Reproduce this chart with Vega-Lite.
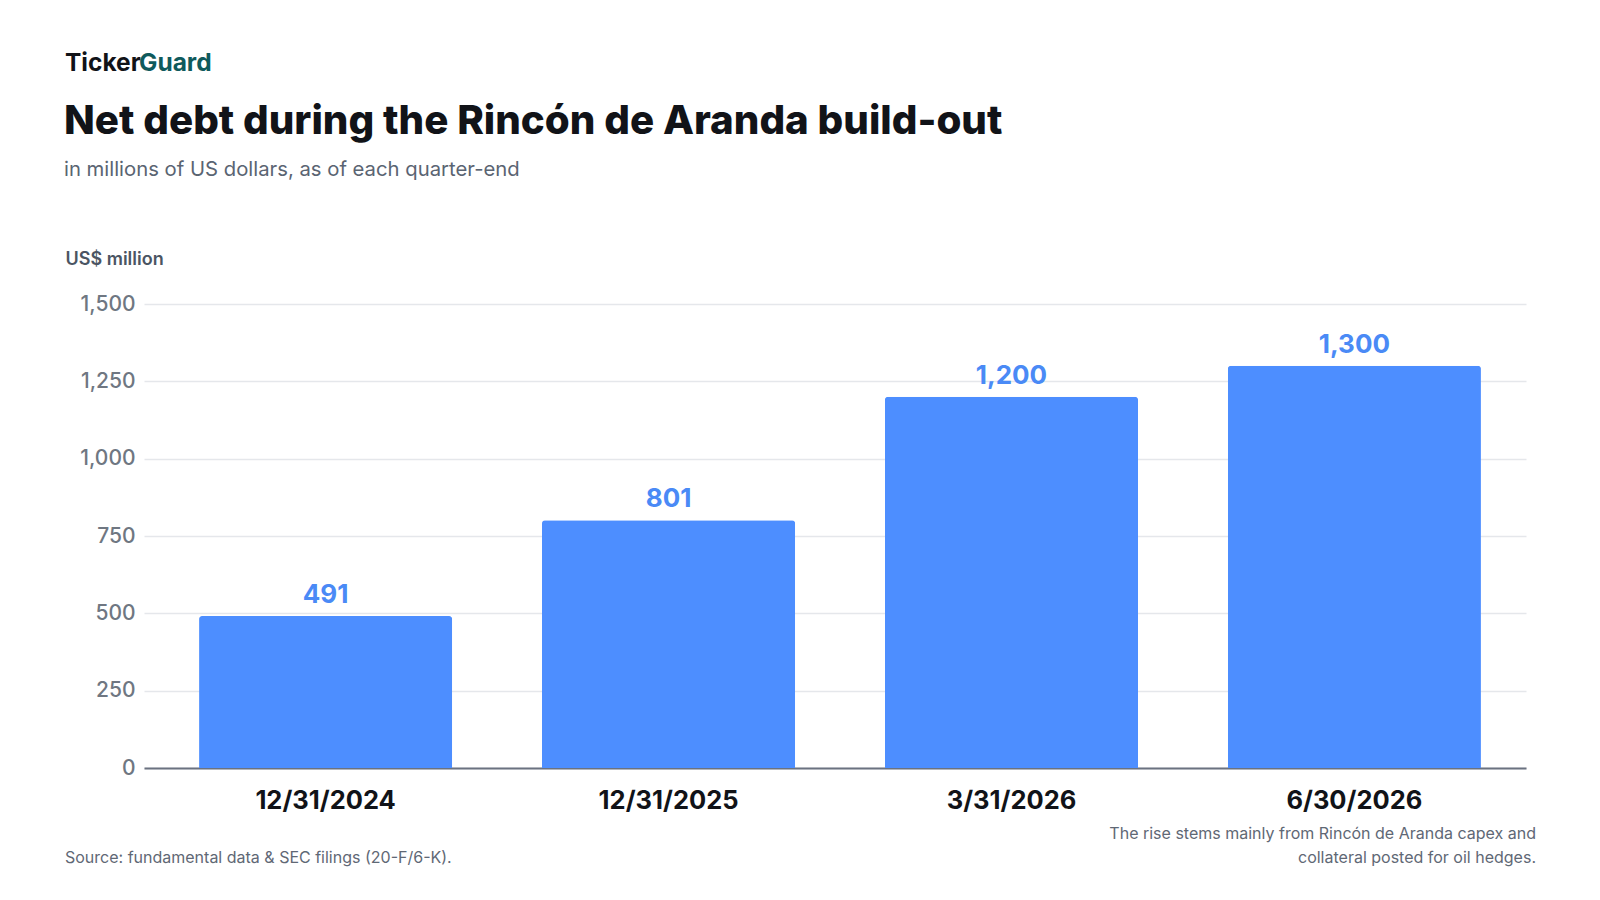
{
  "$schema": "https://vega.github.io/schema/vega-lite/v6.json",
  "width": 1382,
  "height": 464,
  "autosize": {"type": "none"},
  "padding": {"left": 144, "top": 304, "right": 74, "bottom": 132},
  "background": "#ffffff",
  "config": {
    "font": "Inter",
    "view": {"stroke": null}
  },
  "title": {
    "text": "Net debt during the Rincón de Aranda build-out",
    "subtitle": "in millions of US dollars, as of each quarter-end",
    "anchor": "start",
    "frame": "group",
    "dx": -80,
    "offset": -129,
    "font": "Inter",
    "fontSize": 40.3,
    "fontWeight": 800,
    "color": "#111318",
    "subtitleFont": "Inter",
    "subtitleFontSize": 20.3,
    "subtitleColor": "#5a6472",
    "subtitlePadding": 17
  },
  "data": {
    "values": [
      {"quarter": "12/31/2024", "net_debt": 491},
      {"quarter": "12/31/2025", "net_debt": 801},
      {"quarter": "3/31/2026", "net_debt": 1200},
      {"quarter": "6/30/2026", "net_debt": 1300}
    ]
  },
  "encoding": {
    "x": {
      "field": "quarter",
      "type": "nominal",
      "sort": null,
      "title": null,
      "scale": {"paddingInner": 0.262, "paddingOuter": 0.146, "align": 0.55},
      "axis": {
        "labelAngle": 0,
        "ticks": false,
        "labelFont": "Inter",
        "labelFontSize": 25.5,
        "labelFontWeight": "bold",
        "labelColor": "#111318",
        "labelBaseline": "alphabetic",
        "labelPadding": 40,
        "domainColor": "#6b7280",
        "domainWidth": 2
      }
    },
    "y": {
      "field": "net_debt",
      "type": "quantitative",
      "title": "US$ million",
      "scale": {"domain": [0, 1500]},
      "axis": {
        "values": [0, 250, 500, 750, 1000, 1250, 1500],
        "format": ",.0f",
        "ticks": false,
        "domain": false,
        "labelFont": "Inter",
        "labelFontSize": 21,
        "labelFontWeight": 500,
        "labelColor": "#6f7782",
        "labelPadding": 9,
        "gridColor": "#e5e7eb",
        "gridWidth": 1.5,
        "titleAngle": 0,
        "titleAlign": "left",
        "titleBaseline": "alphabetic",
        "titleX": -79,
        "titleY": -40,
        "titleFont": "Inter",
        "titleFontSize": 18,
        "titleFontWeight": 600,
        "titleColor": "#4b5563"
      }
    }
  },
  "layer": [
    {
      "mark": {
        "type": "bar",
        "color": "#4d8eff",
        "cornerRadiusTopLeft": 3,
        "cornerRadiusTopRight": 3
      }
    },
    {
      "mark": {
        "type": "text",
        "baseline": "alphabetic",
        "dy": -13,
        "font": "Inter",
        "fontSize": 26,
        "fontWeight": "bold",
        "color": "#4a8af6"
      },
      "encoding": {
        "text": {"field": "net_debt", "type": "quantitative", "format": ","}
      }
    },
    {
      "data": {"values": [{"brand": "Ticker"}]},
      "mark": {
        "type": "text",
        "align": "left",
        "baseline": "alphabetic",
        "font": "Inter",
        "fontSize": 24.5,
        "fontWeight": "bold",
        "color": "#111318"
      },
      "encoding": {
        "x": {"value": -79},
        "y": {"value": -233},
        "text": {"field": "brand"}
      }
    },
    {
      "data": {"values": [{"brand": "Guard"}]},
      "mark": {
        "type": "text",
        "align": "left",
        "baseline": "alphabetic",
        "font": "Inter",
        "fontSize": 24.5,
        "fontWeight": "bold",
        "color": "#0f5a5c"
      },
      "encoding": {
        "x": {"value": -5},
        "y": {"value": -233},
        "text": {"field": "brand"}
      }
    },
    {
      "data": {"values": [{"note": "Source: fundamental data & SEC filings (20-F/6-K)."}]},
      "mark": {
        "type": "text",
        "align": "left",
        "baseline": "alphabetic",
        "font": "Inter",
        "fontSize": 16,
        "color": "#5f6875"
      },
      "encoding": {
        "x": {"value": -79},
        "y": {"value": 559},
        "text": {"field": "note"}
      }
    },
    {
      "data": {"values": [{"note": ["The rise stems mainly from Rincón de Aranda capex and", "collateral posted for oil hedges."]}]},
      "mark": {
        "type": "text",
        "align": "right",
        "baseline": "alphabetic",
        "lineHeight": 24,
        "font": "Inter",
        "fontSize": 16,
        "color": "#5f6875"
      },
      "encoding": {
        "x": {"value": 1392},
        "y": {"value": 535},
        "text": {"field": "note"}
      }
    }
  ]
}
